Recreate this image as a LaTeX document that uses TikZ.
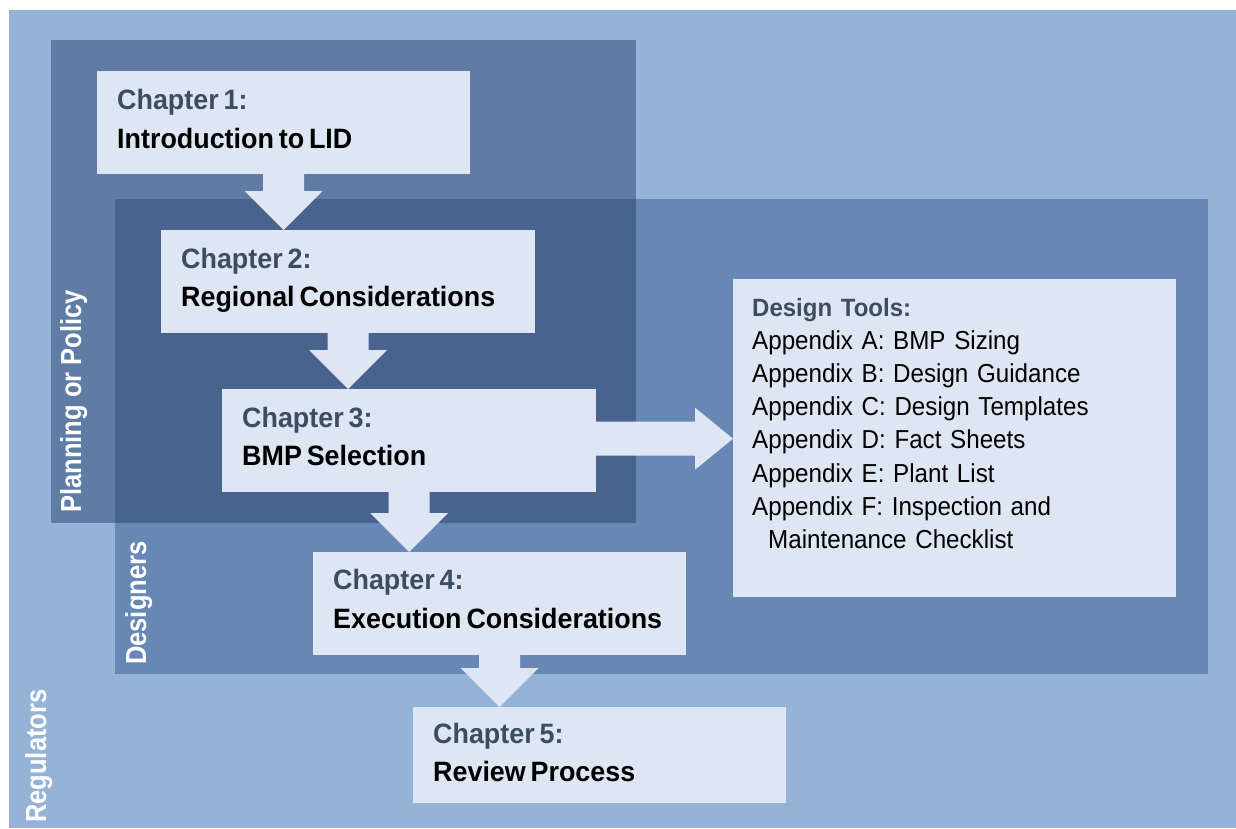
\documentclass[tikz,border=0pt]{standalone}
\usepackage{fontspec}
\setmainfont{Liberation Sans}
\newfontfamily\chapfont{Liberation Sans}[FakeStretch=0.96,WordSpace=0.65]
\newfontfamily\sidefont{Liberation Sans}[FakeStretch=0.88]
\newfontfamily\toolfont{Liberation Sans}[FakeStretch=0.93,WordSpace=2.3]
\usetikzlibrary{calc}
\definecolor{outerc}{HTML}{95B3D7}
\definecolor{planc}{HTML}{5E7CA4}
\definecolor{desc}{HTML}{6788B4}
\definecolor{overc}{HTML}{47638E}
\definecolor{boxc}{HTML}{DDE6F2}
\definecolor{slate}{HTML}{3E4C63}
\tikzset{
  chapbox/.style={fill=boxc, draw=none, inner sep=0pt, anchor=north west},
  chaphead/.style={anchor=base west, inner sep=0pt, text=slate, font=\chapfont\bfseries\fontsize{28}{30}\selectfont},
  chapbody/.style={anchor=base west, inner sep=0pt, text=black, font=\chapfont\bfseries\fontsize{28}{30}\selectfont},
  sidelabel/.style={rotate=90, anchor=base west, inner sep=0pt, text=white, font=\sidefont\bfseries\fontsize{29}{31}\selectfont},
  blockarrow/.style={fill=boxc, draw=none},
}
\begin{document}
\begin{tikzpicture}[x=1pt,y=-1pt]
\useasboundingbox (0,0) rectangle (1236,828);
% group regions
\fill[outerc] (9,10) rectangle (1236,828);
\fill[planc] (51,40) rectangle (636,523);
\fill[desc] (115,199) rectangle (1208,674);
\fill[overc] (115,199) rectangle (636,523);
% side labels
\node[sidelabel] (lplan) at (81,513) {Planning or Policy};
\node[sidelabel] (ldes) at (146,665) {Designers};
\node[sidelabel] (lreg) at (46,823) {Regulators};
% chapter boxes
\node[chapbox, minimum width=373pt, minimum height=103pt] (c1) at (97,71) {};
\node[chapbox, minimum width=374pt, minimum height=103pt] (c2) at (161,230) {};
\node[chapbox, minimum width=374pt, minimum height=103pt] (c3) at (222,389) {};
\node[chapbox, minimum width=373pt, minimum height=103pt] (c4) at (313,552) {};
\node[chapbox, minimum width=373pt, minimum height=96pt] (c5) at (413,707) {};
\node[chapbox, minimum width=443pt, minimum height=318pt] (dt) at (733,279) {};
% chapter texts
\node[chaphead] (c1a) at ($(c1.north west)+(20,38)$) {Chapter 1:};
\node[chapbody] (c1b) at ($(c1.north west)+(20,77)$) {Introduction to LID};
\node[chaphead] (c2a) at ($(c2.north west)+(20,38)$) {Chapter 2:};
\node[chapbody] (c2b) at ($(c2.north west)+(20,76)$) {Regional Considerations};
\node[chaphead] (c3a) at ($(c3.north west)+(20,38)$) {Chapter 3:};
\node[chapbody] (c3b) at ($(c3.north west)+(20,76)$) {BMP Selection};
\node[chaphead] (c4a) at ($(c4.north west)+(20,37)$) {Chapter 4:};
\node[chapbody] (c4b) at ($(c4.north west)+(20,76)$) {Execution Considerations};
\node[chaphead] (c5a) at ($(c5.north west)+(20,36)$) {Chapter 5:};
\node[chapbody] (c5b) at ($(c5.north west)+(20,74)$) {Review Process};
% design tools text
\node[anchor=base west, inner sep=0pt, text width=420pt, align=left,
      font=\toolfont\fontsize{26}{33.2}\selectfont] (dtt) at ($(dt.north west)+(19,37)$)
  {{\bfseries\color{slate}\chapfont\fontsize{25}{33.2}\selectfont Design Tools:}\\
   Appendix A: BMP Sizing\\
   Appendix B: Design Guidance\\
   Appendix C: Design Templates\\
   Appendix D: Fact Sheets\\
   Appendix E: Plant List\\
   Appendix F: Inspection and\\
   \hspace*{16pt}Maintenance Checklist};
% block arrows down
\foreach \a/\b in {c1/c2,c2/c3,c3/c4,c4/c5}{
  \fill[blockarrow] let \p1=(\a.south), \p2=(\b.north) in
    (\x1-20.5pt,\y1+1pt) -- (\x1+20.5pt,\y1+1pt) -- (\x1+20.5pt,\y2+39pt) --
    (\x1+39pt,\y2+39pt) -- (\x1,\y2) -- (\x1-39pt,\y2+39pt) --
    (\x1-20.5pt,\y2+39pt) -- cycle;
}
% block arrow right
\fill[blockarrow] let \p1=(c3.east), \p2=(dt.west) in
  (\x1-1pt,\y1+19pt) -- (\x2-38pt,\y1+19pt) -- (\x2-38pt,\y1+33pt) --
  (\x2,\y1+2pt) -- (\x2-38pt,\y1-29pt) -- (\x2-38pt,\y1-15pt) --
  (\x1-1pt,\y1-15pt) -- cycle;
\end{tikzpicture}
\end{document}
